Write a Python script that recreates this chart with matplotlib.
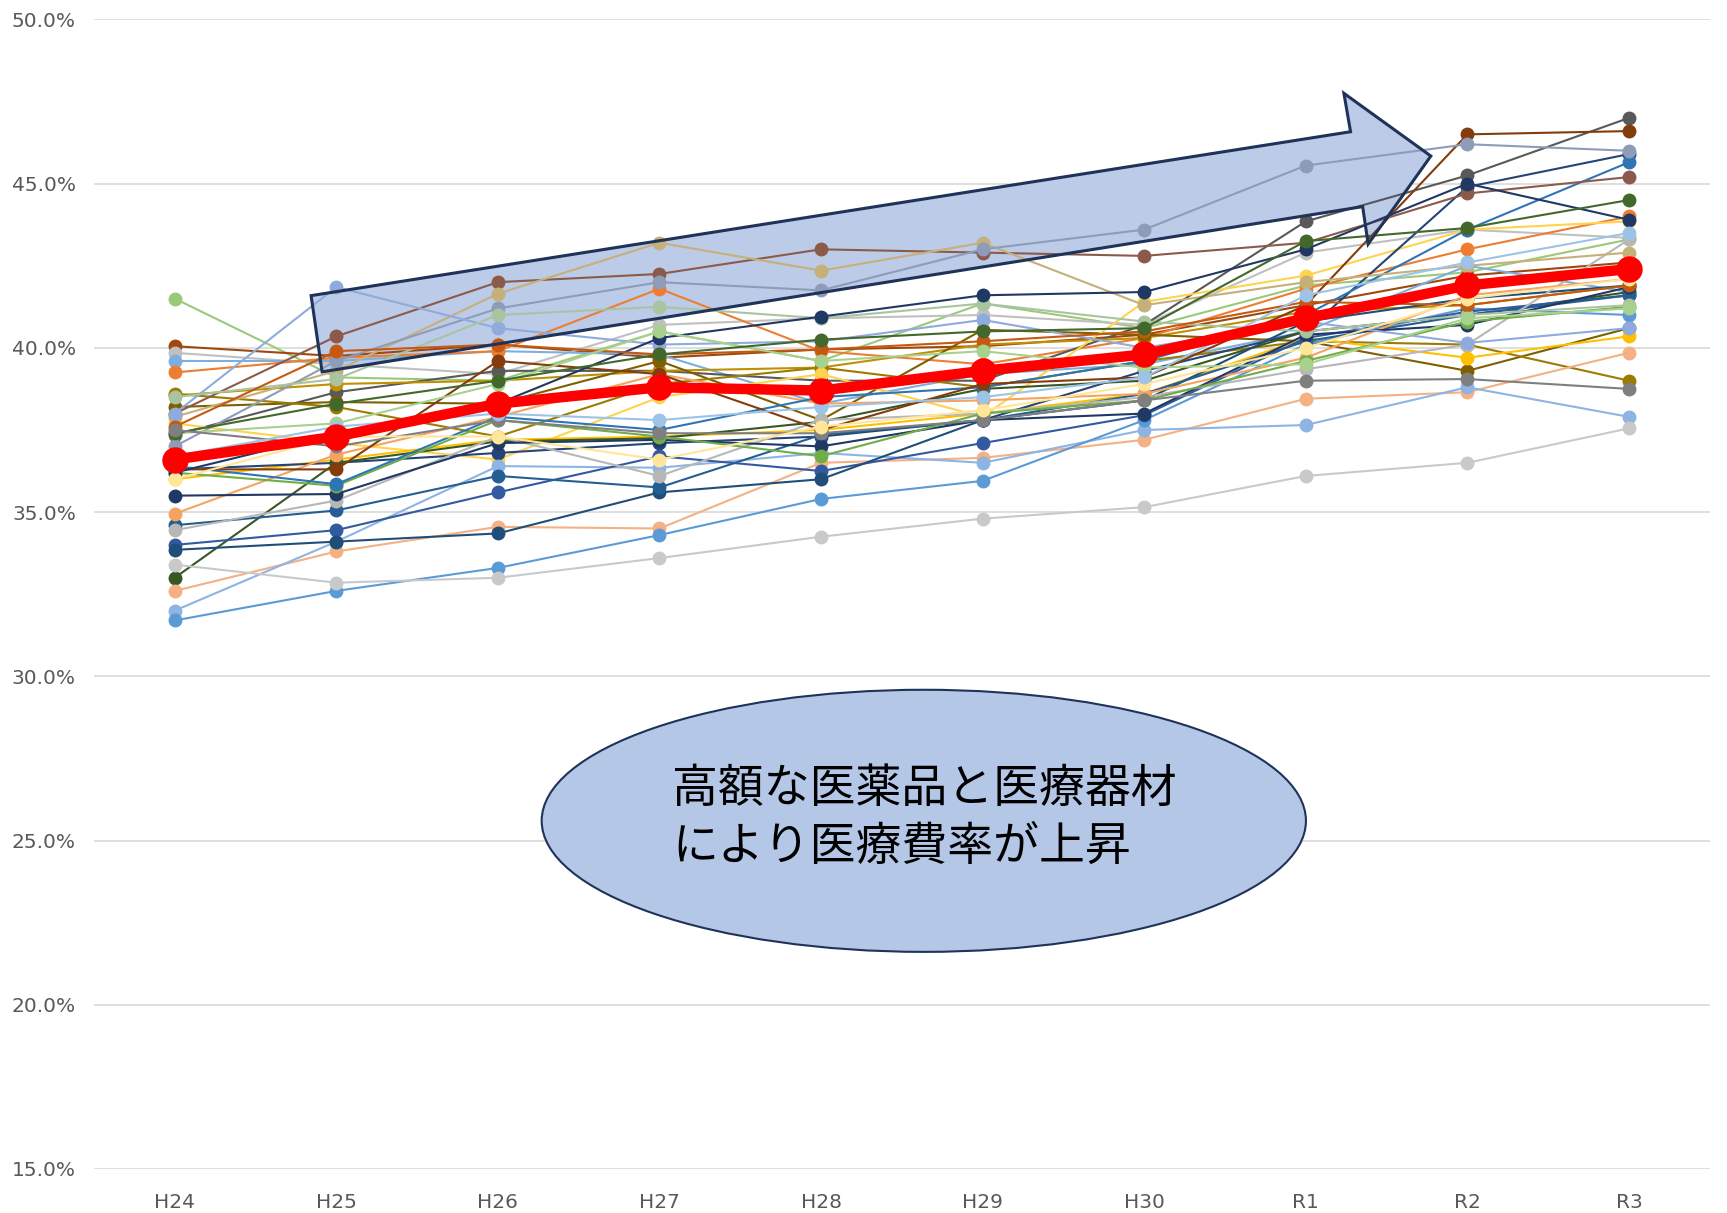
import matplotlib
matplotlib.use("Agg")
import matplotlib.pyplot as plt
from matplotlib.patches import Polygon, Ellipse

# --- data (percent) ---
years = ["H24", "H25", "H26", "H27", "H28", "H29", "H30", "R1", "R2", "R3"]

avg_rate = [36.6, 37.3, 38.3, 38.8, 38.7, 39.3, 39.8, 40.9, 41.9, 42.4]

pref_rates = [
    [41.5, 39.1, 39.0, 40.5, 39.6, 41.35, 40.6, 41.9, 42.3, 43.3],
    [40.05, 39.75, 40.1, 39.7, 39.95, 40.05, 40.4, 41.3, 42.2, 42.6],
    [39.85, 39.5, 39.2, 40.7, 40.9, 41.0, 40.7, 42.9, 43.6, 43.35],
    [39.6, 39.6, 39.9, 39.8, 38.3, 39.2, 39.5, 40.5, 42.5, 41.7],
    [39.25, 39.7, 39.9, 41.8, 39.9, 39.5, 40.3, 41.8, 43.0, 44.0],
    [37.35, 38.65, 39.3, 39.3, 39.0, 39.0, 40.7, 43.85, 45.25, 47.0],
    [38.55, 38.9, 39.0, 39.3, 39.4, 40.1, 40.3, 41.1, 41.3, 41.9],
    [38.2, 38.35, 38.3, 39.6, 37.8, 40.55, 40.4, 40.2, 39.3, 40.6],
    [38.6, 38.2, 37.3, 38.9, 39.4, 38.8, 39.6, 40.2, 40.1, 39.0],
    [37.7, 37.1, 36.6, 38.5, 39.2, 37.9, 41.4, 42.2, 43.6, 43.85],
    [36.0, 36.6, 37.2, 37.3, 37.5, 38.0, 38.6, 40.3, 39.7, 40.35],
    [36.3, 36.5, 36.8, 37.1, 37.3, 37.8, 39.3, 40.5, 44.9, 45.9],
    [33.0, 36.5, 37.15, 37.25, 37.75, 38.75, 39.0, 40.5, 41.0, 41.7],
    [32.6, 33.8, 34.55, 34.5, 36.5, 36.65, 37.2, 38.45, 38.65, 39.85],
    [32.0, 34.1, 36.4, 36.35, 36.8, 36.5, 37.5, 37.65, 38.8, 37.9],
    [31.7, 32.6, 33.3, 34.3, 35.4, 35.95, 37.8, 40.1, 41.2, 41.0],
    [33.4, 32.85, 33.0, 33.6, 34.25, 34.8, 35.15, 36.1, 36.5, 37.55],
    [34.0, 34.45, 35.6, 36.7, 36.25, 37.1, 37.95, 40.3, 41.1, 41.6],
    [33.85, 34.1, 34.35, 35.6, 36.0, 37.8, 38.4, 40.8, 41.5, 41.9],
    [34.6, 35.05, 36.1, 35.75, 37.35, 37.8, 38.6, 40.2, 41.0, 41.6],
    [34.45, 35.35, 37.3, 36.1, 37.8, 38.0, 38.5, 39.35, 40.1, 43.3],
    [34.95, 36.75, 37.9, 39.2, 38.3, 38.4, 38.6, 39.7, 41.6, 42.1],
    [35.5, 35.55, 37.1, 37.2, 37.0, 37.8, 38.0, 40.4, 40.7, 41.85],
    [36.2, 35.8, 37.8, 37.3, 36.7, 38.0, 38.4, 39.6, 40.8, 41.25],
    [36.4, 35.85, 37.9, 37.5, 38.5, 38.8, 39.6, 41.0, 43.6, 45.65],
    [36.3, 36.3, 39.6, 39.2, 37.5, 38.9, 39.1, 41.3, 46.5, 46.6],
    [38.0, 40.35, 42.0, 42.25, 43.0, 42.9, 42.8, 43.2, 44.7, 45.2],
    [37.9, 39.3, 41.65, 43.2, 42.35, 43.2, 41.3, 42.0, 42.5, 42.9],
    [37.0, 39.6, 41.2, 42.0, 41.75, 43.0, 43.6, 45.55, 46.2, 46.0],
    [38.0, 41.85, 40.6, 40.1, 40.2, 40.85, 40.0, 40.8, 40.15, 40.6],
    [38.5, 39.05, 41.0, 41.25, 40.9, 41.35, 40.8, 40.5, 41.0, 41.3],
    [36.2, 37.4, 38.3, 40.3, 40.95, 41.6, 41.7, 43.0, 45.0, 43.9],
    [37.6, 39.9, 40.1, 39.8, 39.95, 40.2, 40.5, 41.4, 41.3, 41.9],
    [37.4, 37.7, 38.9, 40.5, 39.6, 39.9, 39.4, 39.5, 40.9, 41.2],
    [37.4, 38.3, 39.0, 39.8, 40.25, 40.5, 40.6, 43.25, 43.65, 44.5],
    [37.5, 37.0, 37.8, 37.4, 37.4, 37.8, 38.4, 39.0, 39.05, 38.75],
    [36.0, 37.3, 37.3, 36.6, 37.6, 38.1, 38.9, 40.0, 41.5, 42.1],
    [36.7, 37.6, 38.0, 37.8, 38.2, 38.5, 39.1, 41.6, 42.6, 43.5],
]

pref_colors = [
    "#9bc97a", "#9e480e", "#c0c0c0", "#7cafdd", "#ed7d31", "#595959",
    "#bf9000", "#7f6000", "#9c7c00", "#ffd34f", "#ffc000", "#264478",
    "#385723", "#f4b183", "#8db4e2", "#5b9bd5", "#c9c9c9", "#335aa1",
    "#1f4e79", "#255e91", "#b7b7b7", "#f4a460", "#203864", "#70ad47",
    "#2e75b6", "#843c0c", "#8c5a4a", "#c5b07a", "#8d9cb8", "#8faadc",
    "#a9c4a0", "#1f3864", "#c65911", "#a9d18e", "#43682b", "#7f7f7f",
    "#ffe699", "#9dc3e6",
]

yticks = [15, 20, 25, 30, 35, 40, 45, 50]
note = "高額な医薬品と医療器材\nにより医療費率が上昇"

plt.rcParams['font.family'] = ['DejaVu Sans']

fig = plt.figure(figsize=(17.27, 12.13), dpi=100)
ax = fig.add_axes([0.0544, 0.0363, 0.9356, 0.9477])

x = list(range(len(years)))

ax.set_xlim(-0.5, len(years) - 0.5)
ax.set_ylim(15, 50)

# block arrow (fill behind lines, outline on top)
arrow_pts = [(0.844, 41.59), (7.277, 46.58), (7.236, 47.75), (7.774, 45.84),
             (7.386, 43.16), (7.352, 44.30), (0.912, 39.27)]
ax.add_patch(Polygon(arrow_pts, closed=True, facecolor="#bccbe8",
                     edgecolor="none", zorder=1))
ax.add_patch(Polygon(arrow_pts, closed=True, facecolor="none",
                     edgecolor="#1f3358", linewidth=2.2, zorder=6))

for vals, c in zip(pref_rates, pref_colors):
    ax.plot(x, vals, color=c, linewidth=1.5, marker="o", markersize=9,
            markeredgecolor=c, zorder=3)

ax.plot(x, avg_rate, color="#ff0000", linewidth=7.5, marker="o", markersize=18,
        zorder=5)

# callout ellipse
ax.add_patch(Ellipse((4.636, 25.6), 4.73, 7.98, facecolor="#b4c7e7",
                     edgecolor="#1f3358", linewidth=1.5, zorder=7))
ax.text(3.08, 25.7, note, fontsize=33, color="black", ha="left", va="center",
        linespacing=1.25, family=["Noto Sans CJK JP", "DejaVu Sans"], zorder=8)

ax.set_yticks(yticks)
ax.set_yticklabels([f"{v:.1f}%" for v in yticks])
ax.set_xticks(x)
ax.set_xticklabels(years)
ax.tick_params(length=0, labelsize=14.5, labelcolor="#595959")
ax.tick_params(axis="x", pad=17)
ax.tick_params(axis="y", pad=13)
ax.grid(axis="y", color="#d9d9d9", linewidth=1.2, zorder=0)
ax.set_axisbelow(True)
for s in ax.spines.values():
    s.set_visible(False)

fig.savefig("out.png", dpi=100)
